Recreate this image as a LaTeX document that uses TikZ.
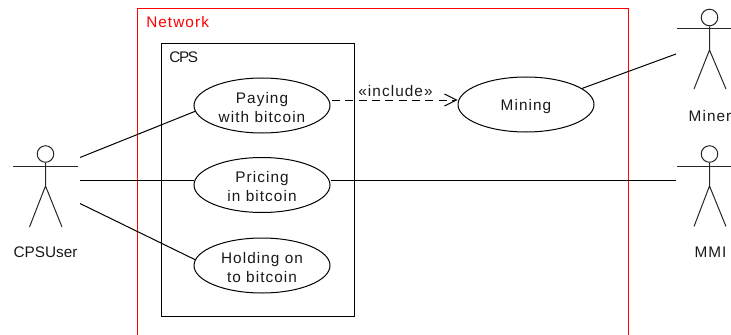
\documentclass[tikz,border=0pt]{standalone}
\usepackage{fontspec}
\setmainfont{Liberation Sans}[LetterSpace=7]
\newfontfamily\neutralfont{Liberation Sans}[LetterSpace=0]
\newfontfamily\tightfont{Liberation Sans}[LetterSpace=-8.5]
\usetikzlibrary{shapes.geometric,arrows.meta}
\tikzset{
  usecase/.style={ellipse,draw=black,line width=0.75pt,minimum width=102pt,minimum height=41.25pt,inner sep=0pt},
  uctext/.style={align=center,inner sep=0pt,yshift=-1.5pt,font=\fontsize{11.5pt}{14.25pt}\selectfont,text=black!90},
  conn/.style={draw=black,line width=0.75pt},
  stick/.style={draw=black!85,line width=0.75pt},
  txt/.style={inner sep=0pt,font=\fontsize{11.5pt}{14pt}\selectfont,text=black!90},
  actorhead/.style={circle,draw=black!85,line width=0.75pt,minimum size=12.4pt,inner sep=0pt}
}
\begin{document}
\begin{tikzpicture}[x=0.75pt,y=-0.75pt]
\useasboundingbox (0,0) rectangle (731,335);
\draw[red,line width=0.75pt] (137.5,340) -- (137.5,8.5) -- (628.5,8.5) -- (628.5,340);
\node[txt,text=red,anchor=west] (net) at (146,22.5) {Network};
\node[draw=black,line width=0.75pt,minimum width=144.75pt,minimum height=205pt,inner sep=0pt,anchor=north west] (cps) at (160.5,43) {};
\node[txt,anchor=west] (cpsl) at (169,57.5) {\tightfont CPS};
\node[usecase,label={[uctext]center:{Paying\\with bitcoin}}] (pay) at (262,105.5) {};
\node[usecase,label={[uctext]center:{Pricing\\in bitcoin}}] (price) at (262,185) {};
\node[usecase,label={[uctext]center:{Holding on\\to bitcoin}}] (hold) at (262,265.5) {};
\node[usecase,label={[uctext]center:{Mining}}] (mine) at (526,104.5) {};
% CPSUser
\node[actorhead] (h1) at (45.5,154) {};
\coordinate (n1) at (45.5,186);
\draw[stick] (13,166.5) -- (78,166.5);
\draw[stick] (h1) -- (n1) -- (29.5,227) (n1) -- (62,227);
\node[txt] (l1) at (45.5,252.5) {\neutralfont CPSUser};
\coordinate (u1) at (80,157.5);
\coordinate (u2) at (80,180.5);
\coordinate (u3) at (80,203.5);
% Miner
\node[actorhead] (h2) at (709.5,17.5) {};
\coordinate (n2) at (709.5,50);
\draw[stick] (677,29) -- (733,29);
\draw[stick] (h2) -- (n2) -- (694,89) (n2) -- (726,89);
\node[txt] (l2) at (710,116) {Miner};
\coordinate (m1) at (676,54);
% MMI
\node[actorhead] (h3) at (709.5,154) {};
\coordinate (n3) at (709.5,186);
\draw[stick] (677,166.5) -- (733,166.5);
\draw[stick] (h3) -- (n3) -- (694,226.5) (n3) -- (726,226.5);
\node[txt] (l3) at (710.5,252.5) {MMI};
\coordinate (m2) at (676,180.5);
% connectors
\draw[conn] (u1) -- (pay.185);
\draw[conn] (u2) -- (price.west |- u2);
\draw[conn] (u3) -- (hold.175);
\draw[conn] (price.east |- m2) -- (m2);
\draw[conn] (m1) -- (mine.16);
\coordinate (d1) at (332,100);
\draw[conn,dashed,dash pattern=on 6pt off 4pt,-{Straight Barb[length=9pt,width=9pt,line width=0.75pt]}] (d1) -- (mine.west |- d1);
\node[txt] (inc) at (395.5,91) {«include»};
\end{tikzpicture}
\end{document}
